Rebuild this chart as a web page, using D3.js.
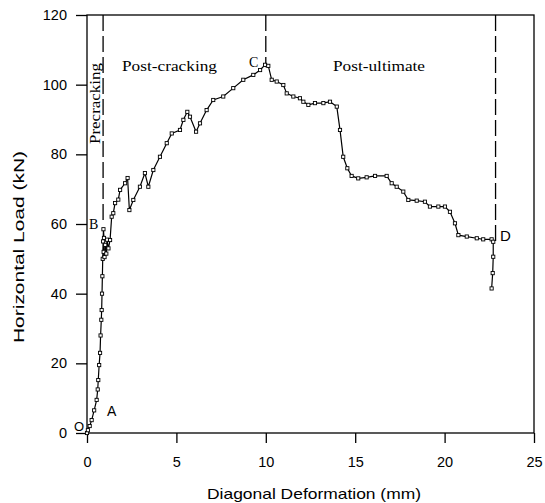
<!DOCTYPE html>
<html>
<head>
<meta charset="utf-8">
<script src="https://cdn.jsdelivr.net/npm/d3@7.9.0/dist/d3.min.js"></script>
<style>
  html, body { margin: 0; padding: 0; background: #fff; }
  svg { display: block; }
  .tick text { font-family: "Liberation Sans", Arial, sans-serif; font-size: 14.5px; fill: #000; }
  .tick line { stroke: #000; }
  .serif { font-family: "Liberation Serif", "Times New Roman", serif; }
  .sans { font-family: "Liberation Sans", Arial, sans-serif; }
</style>
</head>
<body>
<svg id="chart" width="545" height="503"></svg>
<script>
// diagonal deformation (mm) and horizontal load (kN)
var deformation = [
  0, 0.05, 0.15, 0.26, 0.4, 0.54, 0.6, 0.63, 0.68, 0.73, 0.76, 0.8, 0.82, 0.84, 0.86, 0.88, 0.9, 0.92,
  0.95, 0.93, 0.98, 1.02, 1.08, 1.12, 1.2, 1.29, 1.38, 1.47, 1.57, 1.75, 1.85, 2.13, 2.27, 2.37, 2.59,
  2.96, 3.24, 3.43, 3.71, 4.08, 4.46, 4.74, 5.2, 5.39, 5.61, 5.76, 6.1, 6.32, 6.69, 7.06, 7.62, 8.18,
  8.74, 9.3, 9.68, 9.96, 10.14, 10.33, 10.61, 10.98, 11.17, 11.54, 11.91, 12.1, 12.38, 12.75, 13.22,
  13.59, 13.97, 14.15, 14.33, 14.56, 14.8, 15.17, 15.64, 16.11, 16.76, 17.04, 17.32, 17.69, 17.97,
  18.44, 18.9, 19.18, 19.65, 20.02, 20.3, 20.58, 20.77, 21.24, 21.8, 22.16, 22.63, 22.72, 22.72,
  22.69, 22.63
]
var load = [
  0, 0.8, 2.0, 3.7, 6.5, 9.5, 12.5, 15.2, 19.5, 23, 28, 32.5, 35.3, 40, 45, 50, 55, 58.5,
  56, 52, 50.5, 54, 51.5, 55.5, 53, 55.4, 62.1, 63.1, 66.0, 67, 69.8, 71.7, 73.2, 64.0, 66.9,
  70.7, 74.6, 70.7, 75.5, 79.3, 83.2, 86.0, 87.0, 89.9, 92.2, 90.8, 86.5, 88.9, 92.7, 95.6, 96.6, 99.0,
  101.4, 102.8, 104.2, 105.7, 105.4, 101.4, 100.9, 99.9, 97.5, 96.6, 96.1, 95.1, 94.2, 94.7, 94.7,
  95.1, 93.7, 87.0, 79.3, 76.0, 73.8, 73.1, 73.4, 73.8, 73.8, 71.7, 70.7, 69.3, 66.9,
  66.7, 66.4, 65.0, 65.0, 65.0, 63.5, 60.2, 56.8, 56.4, 55.9, 55.6, 55.6, 54.9, 50.6,
  45.9, 41.5
]
var xTicks = [0, 5, 10, 15, 20, 25]
var yTicks = [0, 20, 40, 60, 80, 100, 120]

// stage boundaries (dashed) : deformation, lower load end
var stageX = [0.9, 10, 22.85]
var stageLow = [60, 105, 55]

var points = deformation.map(function (d, i) { return [d, load[i]] })

var svg = d3.select('#chart')
var x = d3.scaleLinear().domain([0, 25]).range([87, 534])
var y = d3.scaleLinear().domain([0, 120]).range([433, 15])

// frame
svg.append('rect')
  .attr('x', x(0)).attr('y', y(120))
  .attr('width', x(25) - x(0)).attr('height', y(0) - y(120))
  .attr('fill', 'none').attr('stroke', '#000').attr('stroke-width', 1.3)

svg.append('g')
  .attr('transform', 'translate(' + x(0) + ',0)')
  .call(d3.axisLeft(y).tickValues(yTicks).tickSize(11).tickSizeOuter(0).tickPadding(9))
  .call(function (g) { g.select('.domain').remove() })
  .selectAll('line').attr('stroke-width', 1.3)

svg.append('g')
  .attr('transform', 'translate(0,' + y(0) + ')')
  .call(d3.axisBottom(x).tickValues(xTicks).tickSize(10).tickSizeOuter(0).tickPadding(14))
  .call(function (g) { g.select('.domain').remove() })
  .selectAll('line').attr('stroke-width', 1.3)

// axis titles
svg.append('text')
  .attr('class', 'sans')
  .attr('x', 314).attr('y', 499)
  .attr('text-anchor', 'middle')
  .attr('font-size', 15)
  .attr('textLength', 214).attr('lengthAdjust', 'spacingAndGlyphs')
  .text('Diagonal Deformation (mm)')

svg.append('text')
  .attr('class', 'sans')
  .attr('transform', 'translate(24,247) rotate(-90)')
  .attr('text-anchor', 'middle')
  .attr('font-size', 15)
  .attr('textLength', 192).attr('lengthAdjust', 'spacingAndGlyphs')
  .text('Horizontal Load  (kN)')

// dashed stage lines
svg.selectAll('line.stage')
  .data(stageX)
  .enter().append('line')
  .attr('class', 'stage')
  .attr('x1', function (d) { return x(d) }).attr('x2', function (d) { return x(d) })
  .attr('y1', y(120))
  .attr('y2', function (d, i) { return y(stageLow[i]) })
  .attr('stroke', '#000').attr('stroke-width', 1.3)
  .attr('stroke-dasharray', '16,5')

// curve
svg.append('path')
  .datum(points)
  .attr('d', d3.line().x(function (d) { return x(d[0]) }).y(function (d) { return y(d[1]) }))
  .attr('fill', 'none').attr('stroke', '#000').attr('stroke-width', 1.2)

svg.selectAll('rect.pt')
  .data(points)
  .enter().append('rect')
  .attr('class', 'pt')
  .attr('x', function (d) { return x(d[0]) - 1.6 })
  .attr('y', function (d) { return y(d[1]) - 1.6 })
  .attr('width', 3.2).attr('height', 3.2)
  .attr('fill', '#fff').attr('stroke', '#000').attr('stroke-width', 0.9)

// stage labels
svg.append('text').attr('class', 'serif')
  .attr('x', 122).attr('y', 71).attr('font-size', 15)
  .attr('textLength', 95).attr('lengthAdjust', 'spacingAndGlyphs')
  .text('Post-cracking')

svg.append('text').attr('class', 'serif')
  .attr('x', 333).attr('y', 71).attr('font-size', 15)
  .attr('textLength', 92).attr('lengthAdjust', 'spacingAndGlyphs')
  .text('Post-ultimate')

svg.append('text').attr('class', 'serif')
  .attr('transform', 'translate(100,144) rotate(-90)')
  .attr('font-size', 14)
  .attr('textLength', 81).attr('lengthAdjust', 'spacingAndGlyphs')
  .text('Precracking')

// point labels
svg.append('text').attr('class', 'serif').attr('x', 249).attr('y', 67).attr('font-size', 14).text('C')
svg.append('text').attr('class', 'serif').attr('x', 89).attr('y', 229).attr('font-size', 14).text('B')
svg.append('text').attr('class', 'sans').attr('x', 107).attr('y', 416).attr('font-size', 14).text('A')
svg.append('text').attr('class', 'sans').attr('x', 500).attr('y', 241).attr('font-size', 15).text('D')
svg.append('text').attr('class', 'sans').attr('x', 74).attr('y', 431).attr('font-size', 13).text('O')
</script>
</body>
</html>
